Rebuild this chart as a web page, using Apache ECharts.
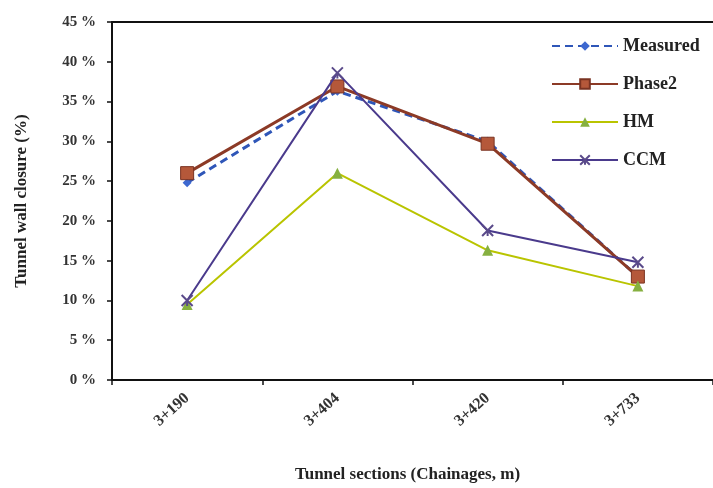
<!DOCTYPE html>
<html>
<head>
<meta charset="utf-8">
<script src="https://cdn.jsdelivr.net/npm/echarts@6/dist/echarts.min.js"></script>
<style>html,body{margin:0;padding:0;background:#fff;}#c{width:713px;height:488px;}</style>
</head>
<body>
<div id="c"></div>
<script>
const categories = ['3+190', '3+404', '3+420', '3+733'];
const measured = [24.8, 36.3, 30.0, 13.0];
const phase2 = [26.0, 36.9, 29.7, 13.0];
const hm = [9.5, 26.0, 16.3, 11.8];
const ccm = [10.0, 38.6, 18.8, 14.8];
const yTicks = [0, 5, 10, 15, 20, 25, 30, 35, 40, 45];

const font = 'Liberation Serif';
const chart = echarts.init(document.getElementById('c'));
chart.setOption({
  backgroundColor: '#fff',
  animation: false,
  grid: { left: 112, right: -8, top: 22, bottom: 108 },
  legend: {
    orient: 'vertical', left: 546, top: 32, itemWidth: 66, itemHeight: 12, itemGap: 20,
    textStyle: { fontFamily: font, fontWeight: 'bold', fontSize: 18, color: '#222' },
    data: ['Measured', 'Phase2', 'HM', 'CCM']
  },
  xAxis: [{
    type: 'category', data: categories, boundaryGap: true,
    name: 'Tunnel sections (Chainages, m)', nameLocation: 'middle', nameGap: 86,
    nameTextStyle: { fontFamily: font, fontWeight: 'bold', fontSize: 17, color: '#222', padding: [0, 0, 0, -10] },
    axisLine: { lineStyle: { color: '#111', width: 2 } },
    axisTick: { show: true, alignWithLabel: false, length: 5, lineStyle: { color: '#111', width: 1.5 } },
    axisLabel: { rotate: 42, fontFamily: font, fontWeight: 'bold', fontSize: 16, color: '#333', margin: 16 }
  }, {
    type: 'category', data: categories, position: 'top',
    axisLine: { show: true, lineStyle: { color: '#111', width: 2 } },
    axisTick: { show: false }, axisLabel: { show: false }
  }],
  yAxis: {
    type: 'value', min: 0, max: 45, interval: 5,
    name: 'Tunnel wall closure (%)', nameLocation: 'middle', nameGap: 82, nameRotate: 90,
    nameTextStyle: { fontFamily: font, fontWeight: 'bold', fontSize: 17, color: '#222' },
    axisLine: { show: true, lineStyle: { color: '#111', width: 2 } },
    axisTick: { show: true, length: 5, lineStyle: { color: '#111', width: 1.5 } },
    splitLine: { show: false },
    axisLabel: {
      fontFamily: font, fontWeight: 'bold', fontSize: 15, color: '#333', margin: 16,
      formatter: v => yTicks.includes(v) ? v + ' %' : ''
    }
  },
  series: [
    { name: 'Measured', type: 'line', data: measured, symbol: 'diamond', symbolSize: 9,
      lineStyle: { color: '#2f56b8', width: 3, type: [8, 5] },
      itemStyle: { color: '#3d68d0' }, z: 2 },
    { name: 'Phase2', type: 'line', data: phase2, symbol: 'rect', symbolSize: 13,
      lineStyle: { color: '#8c3a26', width: 3 },
      itemStyle: { color: '#b5583a', borderColor: '#7a3322', borderWidth: 1 }, z: 3 },
    { name: 'HM', type: 'line', data: hm, symbol: 'triangle', symbolSize: 11,
      lineStyle: { color: '#b9c400', width: 2 },
      itemStyle: { color: '#86b040' }, z: 4 },
    { name: 'CCM', type: 'line', data: ccm, symbol: 'path://M0,0 L10,10 M10,0 L0,10 M5,5 L5,10', symbolSize: 11,
      lineStyle: { color: '#4a3a8c', width: 2 },
      itemStyle: { color: 'none', borderColor: '#5a4a8a', borderWidth: 2 }, z: 5 }
  ]
});
</script>
</body>
</html>
